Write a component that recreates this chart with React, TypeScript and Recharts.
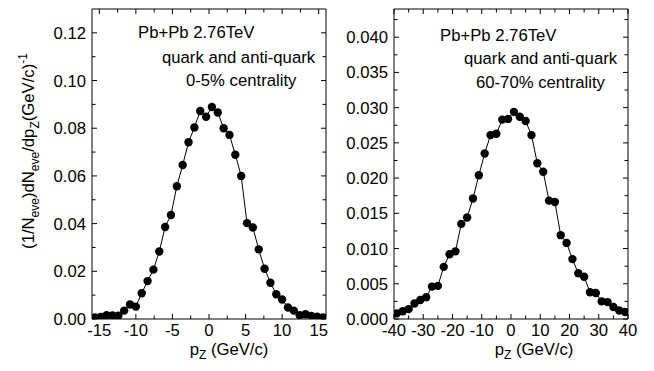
import React from 'react';
import { LineChart, Line, XAxis, YAxis, ReferenceLine } from 'recharts';

// ---- data ----
const pzCentral = [-15.6, -14.8, -14.0, -13.2, -12.4, -11.6, -10.8, -10.0, -9.2, -8.4, -7.6, -6.8, -6.0, -5.2, -4.4, -3.6, -2.8, -2.0, -1.2, -0.4, 0.4, 1.2, 2.0, 2.8, 3.6, 4.4, 5.2, 6.0, 6.8, 7.6, 8.4, 9.2, 10.0, 10.8, 11.6, 12.4, 13.2, 14.0, 14.8, 15.6];
const yieldCentral = [0.0007, 0.0009, 0.0016, 0.0015, 0.0014, 0.0035, 0.0061, 0.0052, 0.0108, 0.0159, 0.0207, 0.0283, 0.0386, 0.0436, 0.0557, 0.0646, 0.0741, 0.0803, 0.0872, 0.0848, 0.0889, 0.0866, 0.0800, 0.0772, 0.0689, 0.0600, 0.0402, 0.0384, 0.0292, 0.0211, 0.0152, 0.0104, 0.0082, 0.0048, 0.0035, 0.0016, 0.0020, 0.0013, 0.0010, 0.0007];

const pzPeripheral = [-39, -37, -35, -33, -31, -29, -27, -25, -23, -21, -19, -17, -15, -13, -11, -9, -7, -5, -3, -1, 1, 3, 5, 7, 9, 11, 13, 15, 17, 19, 21, 23, 25, 27, 29, 31, 33, 35, 37, 39];
const yieldPeripheral = [0.0008, 0.0011, 0.0014, 0.0022, 0.0027, 0.0031, 0.0046, 0.0047, 0.0074, 0.0092, 0.0096, 0.0135, 0.0144, 0.0171, 0.0204, 0.0235, 0.0261, 0.0263, 0.0283, 0.0284, 0.0294, 0.0287, 0.0281, 0.0261, 0.0221, 0.0209, 0.0168, 0.0166, 0.0119, 0.0108, 0.0085, 0.0065, 0.0060, 0.0038, 0.0037, 0.0025, 0.0024, 0.0017, 0.0012, 0.0010];

// ---- ticks ----
const xMajorLeft = [-15, -10, -5, 0, 5, 10, 15];
const xMinorLeft = [-12.5, -7.5, -2.5, 2.5, 7.5, 12.5];
const yMajorLeft = [0, 0.02, 0.04, 0.06, 0.08, 0.1, 0.12];
const yMinorLeft = [0.01, 0.03, 0.05, 0.07, 0.09, 0.11];

const xMajorRight = [-40, -30, -20, -10, 0, 10, 20, 30, 40];
const xMinorRight = [-35, -25, -15, -5, 5, 15, 25, 35];
const yMajorRight = [0, 0.005, 0.01, 0.015, 0.02, 0.025, 0.03, 0.035, 0.04];
const yMinorRight = [0.0025, 0.0075, 0.0125, 0.0175, 0.0225, 0.0275, 0.0325, 0.0375, 0.0425];

const annotationLeft = ['Pb+Pb 2.76TeV', 'quark and anti-quark', '0-5% centrality'];
const annotationRight = ['Pb+Pb 2.76TeV', 'quark and anti-quark', '60-70% centrality'];

const FONT = "'Liberation Sans', Arial, Helvetica, sans-serif";
const FS = 16.7;
const TS = 4;
const TM = 4;
const MAJ = 5;
const MIN = 3.5;
const CH = 371;
const MT = 9;
const XH = 52;
const PH = CH - MT - XH; // plot height
const PW = 234; // plot width (both panels)

const isIn = (arr: number[], v: number) => arr.some((m) => Math.abs(m - v) < 1e-9);

function bottomTick(major: number[], fmt: (v: number) => string) {
  return (p: any) => {
    const v = p.payload.value;
    const mj = isIn(major, v);
    const len = mj ? MAJ : MIN;
    const ay = p.y - TS - TM;
    const ty = ay - PH;
    return (
      <g>
        <line x1={p.x} x2={p.x} y1={ay} y2={ay - len} stroke="#000" strokeWidth={1} />
        <line x1={p.x} x2={p.x} y1={ty} y2={ty + len} stroke="#000" strokeWidth={1} />
        {mj && (
          <text x={p.x} y={ay + 17} textAnchor="middle" fontSize={FS} fontFamily={FONT} fill="#000">
            {fmt(v)}
          </text>
        )}
      </g>
    );
  };
}

function leftTick(major: number[], fmt: (v: number) => string) {
  return (p: any) => {
    const v = p.payload.value;
    const mj = isIn(major, v);
    const len = mj ? MAJ : MIN;
    const ax = p.x + TS + TM;
    const rx = ax + PW;
    return (
      <g>
        <line x1={ax} x2={ax + len} y1={p.y} y2={p.y} stroke="#000" strokeWidth={1} />
        <line x1={rx} x2={rx - len} y1={p.y} y2={p.y} stroke="#000" strokeWidth={1} />
        {mj && (
          <text x={ax - 6} y={p.y + 6} textAnchor="end" fontSize={FS} fontFamily={FONT} fill="#000">
            {fmt(v)}
          </text>
        )}
      </g>
    );
  };
}

type PanelProps = {
  left: number;
  width: number;
  yAxisWidth: number;
  marginRight: number;
  pz: number[];
  values: number[];
  xDomain: [number, number];
  yDomain: [number, number];
  xMajor: number[];
  xMinor: number[];
  yMajor: number[];
  yMinor: number[];
  yDigits: number;
};

function Panel(props: PanelProps) {
  const data = props.pz.map((x, i) => ({ pz: x, y: props.values[i] }));
  const xTicks = [...props.xMajor, ...props.xMinor].sort((a, b) => a - b);
  const yTicks = [...props.yMajor, ...props.yMinor].sort((a, b) => a - b);
  const fmtX = (v: number) => String(v);
  const fmtY = (v: number) => v.toFixed(props.yDigits);
  return (
    <div style={{ position: 'absolute', left: props.left, top: 0 }}>
      <LineChart
        width={props.width}
        height={CH}
        data={data}
        margin={{ top: MT, right: props.marginRight, bottom: 0, left: 0 }}
      >
        <XAxis
          xAxisId="b"
          dataKey="pz"
          type="number"
          domain={props.xDomain}
          allowDataOverflow
          ticks={xTicks}
          interval={0}
          height={XH}
          tickSize={TS}
          tickMargin={TM}
          tickLine={false}
          axisLine={{ stroke: '#000', strokeWidth: 1 }}
          tick={bottomTick(props.xMajor, fmtX)}
        />
        <YAxis
          yAxisId="l"
          type="number"
          domain={props.yDomain}
          allowDataOverflow
          ticks={yTicks}
          interval={0}
          width={props.yAxisWidth}
          tickSize={TS}
          tickMargin={TM}
          tickLine={false}
          axisLine={{ stroke: '#000', strokeWidth: 1 }}
          tick={leftTick(props.yMajor, fmtY)}
        />
        <ReferenceLine xAxisId="b" yAxisId="l" y={props.yDomain[1]} stroke="#000" strokeWidth={1} ifOverflow="visible" />
        <ReferenceLine xAxisId="b" yAxisId="l" x={props.xDomain[1]} stroke="#000" strokeWidth={1} ifOverflow="visible" />
        <Line
          xAxisId="b"
          yAxisId="l"
          type="linear"
          dataKey="y"
          stroke="#000"
          strokeWidth={1}
          dot={{ r: 4.2, fill: '#000', stroke: '#000', strokeWidth: 0 }}
          isAnimationActive={false}
        />
      </LineChart>
    </div>
  );
}

function Overlay() {
  const t = { fontFamily: FONT, fontSize: FS, fill: '#000' } as const;
  const sub = 12;
  return (
    <svg
      width={654}
      height={371}
      style={{ position: 'absolute', left: 0, top: 0, pointerEvents: 'none' }}
    >
      {/* left annotation */}
      <text {...t} x={138} y={38}>{annotationLeft[0]}</text>
      <text {...t} x={162} y={63}>{annotationLeft[1]}</text>
      <text {...t} x={186} y={86}>{annotationLeft[2]}</text>
      {/* right annotation */}
      <text {...t} x={440} y={41}>{annotationRight[0]}</text>
      <text {...t} x={464} y={64}>{annotationRight[1]}</text>
      <text {...t} x={476} y={88}>{annotationRight[2]}</text>
      {/* y label */}
      <text {...t} x={34} y={151} textAnchor="middle" transform="rotate(-90, 34, 151)">
        <tspan>(1/N</tspan>
        <tspan fontSize={sub} dy={5}>eve</tspan>
        <tspan dy={-5}>)dN</tspan>
        <tspan fontSize={sub} dy={5}>eve</tspan>
        <tspan dy={-5}>/dp</tspan>
        <tspan fontSize={sub} dy={5}>Z</tspan>
        <tspan dy={-5}>(GeV/c)</tspan>
        <tspan fontSize={sub} dy={-7}>-1</tspan>
      </text>
      {/* x labels */}
      <text {...t} x={229} y={355} textAnchor="middle">
        <tspan>p</tspan>
        <tspan fontSize={sub} dy={4}>Z</tspan>
        <tspan dy={-4}> (GeV/c)</tspan>
      </text>
      <text {...t} x={534} y={355} textAnchor="middle">
        <tspan>p</tspan>
        <tspan fontSize={sub} dy={4}>Z</tspan>
        <tspan dy={-4}> (GeV/c)</tspan>
      </text>
    </svg>
  );
}

export default function App() {
  return (
    <div style={{ position: 'absolute', left: 0, top: 0, width: 654, height: 371, background: '#fff' }}>
      <Panel
        left={0}
        width={330}
        yAxisWidth={92}
        marginRight={4}
        pz={pzCentral}
        values={yieldCentral}
        xDomain={[-16, 16]}
        yDomain={[0, 0.13]}
        xMajor={xMajorLeft}
        xMinor={xMinorLeft}
        yMajor={yMajorLeft}
        yMinor={yMinorLeft}
        yDigits={2}
      />
      <Panel
        left={330}
        width={324}
        yAxisWidth={64}
        marginRight={26}
        pz={pzPeripheral}
        values={yieldPeripheral}
        xDomain={[-40, 40]}
        yDomain={[0, 0.044]}
        xMajor={xMajorRight}
        xMinor={xMinorRight}
        yMajor={yMajorRight}
        yMinor={yMinorRight}
        yDigits={3}
      />
      <Overlay />
    </div>
  );
}
